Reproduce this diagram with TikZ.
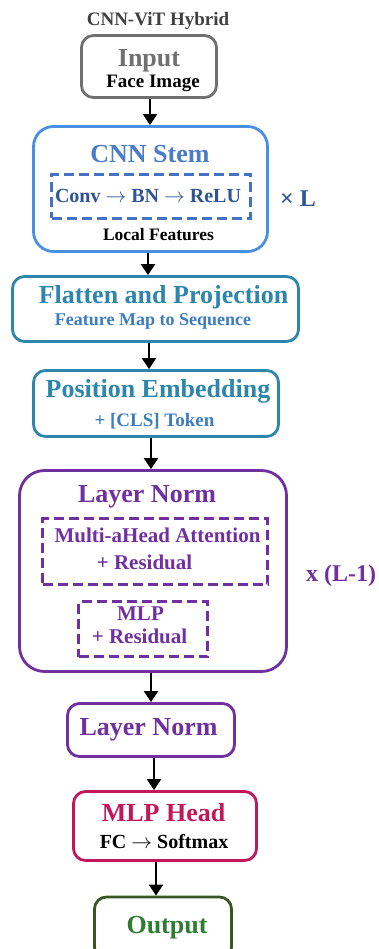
\documentclass[tikz,border=0pt]{standalone}
\usepackage{fontspec}
\setmainfont{Liberation Serif}
\usetikzlibrary{arrows.meta,positioning}

\definecolor{titlegray}{HTML}{404040}
\definecolor{ingray}{HTML}{707070}
\definecolor{stemblue}{HTML}{4A90E2}
\definecolor{stemtext}{HTML}{4A7CC9}
\definecolor{convblue}{HTML}{4472C4}
\definecolor{darkblue}{HTML}{2F5597}
\definecolor{teal}{HTML}{2E86AB}
\definecolor{subblue}{HTML}{3C7DC0}
\definecolor{vitpurple}{HTML}{7030A0}
\definecolor{headred}{HTML}{C2185B}
\definecolor{outgreen}{HTML}{375623}
\definecolor{outtext}{HTML}{2E7D32}

\tikzset{
	blk/.style={draw, line width=2.8pt, rounded corners=12pt, inner sep=0pt, fill=white},
	dbox/.style={draw, line width=3pt, dash pattern=on 10pt off 5pt, inner sep=0pt},
	arr/.style={-{Triangle[length=11pt,width=14pt]}, line width=2pt, black},
	lbl/.style={anchor=base, inner sep=0pt, font=\bfseries\fontsize{#1}{#1}\selectfont},
}

\begin{document}
\begin{tikzpicture}[x=1pt,y=-1pt]
		\useasboundingbox (0,0) rectangle (378,949);
		
		\node[lbl=19, text=titlegray] (title) at (158,26) {CNN-ViT Hybrid};
		
		% input
		\node[blk, draw=ingray, minimum width=135pt, minimum height=62pt] (inbox) at (149,66.5) {};
		\node[lbl=26, text=ingray] (intxt) at (149,67) {Input};
		\node[lbl=19] (insub) at (153,88) {Face Image};
		
		% cnn stem
		\node[blk, draw=stemblue, rounded corners=20pt, minimum width=234pt, minimum height=125pt] (cnn) at (150.5,189) {};
		\node[lbl=26, text=stemtext] (cnntxt) at (150,163) {CNN Stem};
		\node[dbox, draw=convblue, minimum width=199pt, minimum height=44pt] (conv) at (151,196.5) {};
		\node[lbl=20, text=darkblue] (convtxt) at (148,203) {Conv $\rightarrow$ BN $\rightarrow$ ReLU};
		\node[lbl=17.5] (cnnsub) at (158.5,241) {Local Features};
		\node[lbl=24, text=darkblue] (reps) at (298,207) {× L};
		
		% flatten
		\node[blk, draw=teal, minimum width=286pt, minimum height=65pt] (flat) at (155.5,309) {};
		\node[lbl=26, text=teal] (flattxt) at (163.5,303) {Flatten and Projection};
		\node[lbl=18, text=subblue] (flatsub) at (153,325) {Feature Map to Sequence};
		
		% position embedding
		\node[blk, draw=teal, minimum width=245pt, minimum height=66pt] (pos) at (156,403.5) {};
		\node[lbl=26, text=teal] (postxt) at (158,397) {Position Embedding};
		\node[lbl=19, text=subblue] (possub) at (154.5,426) {+ [CLS] Token};
		
		% transformer block
		\node[blk, draw=vitpurple, rounded corners=25pt, minimum width=267pt, minimum height=201pt] (enc) at (153,571) {};
		\node[lbl=26, text=vitpurple] (enctxt) at (147,502) {Layer Norm};
		\node[dbox, draw=vitpurple, minimum width=225pt, minimum height=66pt] (attn) at (155,551.5) {};
		\node[lbl=21, text=vitpurple] (attntxt) at (157.5,542) {Multi-aHead Attention};
		\node[lbl=21, text=vitpurple] (attnsub) at (144.5,569) {+ Residual};
		\node[dbox, draw=vitpurple, minimum width=129pt, minimum height=55pt] (mlp) at (143,629) {};
		\node[lbl=21, text=vitpurple] (mlptxt) at (140.5,620) {MLP};
		\node[lbl=21, text=vitpurple] (mlpsub) at (139.5,643) {+ Residual};
		\node[lbl=24, text=vitpurple] (encreps) at (341,581) {x (L-1)};
		
		% final norm
		\node[blk, draw=vitpurple, minimum width=167pt, minimum height=53pt] (norm) at (151,730) {};
		\node[lbl=26, text=vitpurple] (normtxt) at (148.5,735) {Layer Norm};
		
		% head
		\node[blk, draw=headred, minimum width=183pt, minimum height=69pt] (head) at (165,826) {};
		\node[lbl=26, text=headred] (headtxt) at (163.5,821) {MLP Head};
		\node[lbl=20] (headsub) at (164,848) {FC $\rightarrow$ Softmax};
		
		% output
		\node[blk, draw=outgreen, minimum width=137pt, minimum height=62pt] (out) at (163,928) {};
		\node[lbl=26, text=outtext] (outtxt) at (167,933) {Output};
		
		\draw[arr] ([xshift=1pt]inbox.south) -- ([xshift=1pt]inbox.south |- cnn.north);
		\draw[arr] ([xshift=-2.5pt]cnn.south) -- ([xshift=-2.5pt]cnn.south |- flat.north);
		\draw[arr] ([xshift=-6.5pt]flat.south) -- ([xshift=-6.5pt]flat.south |- pos.north);
		\draw[arr] ([xshift=-5pt]pos.south) -- ([xshift=-5pt]pos.south |- enc.north);
		\draw[arr] ([xshift=-2pt]enc.south) -- ([xshift=-2pt]enc.south |- norm.north);
		\draw[arr] ([xshift=3pt]norm.south) -- ([xshift=3pt]norm.south |- head.north);
		\draw[arr] ([xshift=-9pt]head.south) -- ([xshift=-9pt]head.south |- out.north);
	\end{tikzpicture}
\end{document}
